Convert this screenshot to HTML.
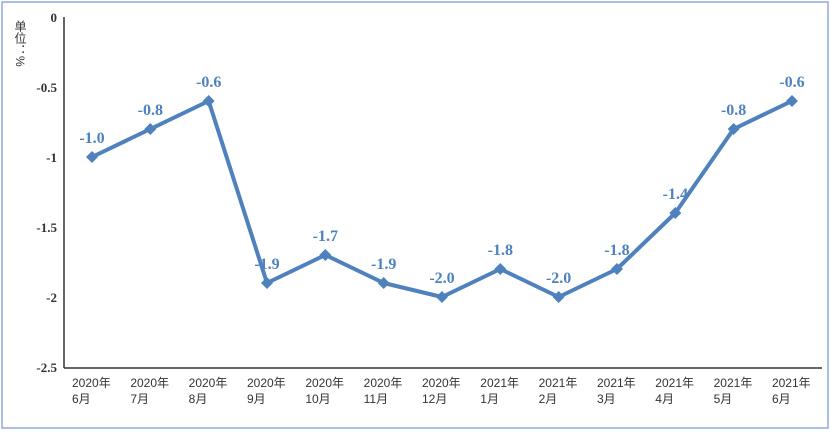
<!DOCTYPE html>
<html><head><meta charset="utf-8"><style>
body{margin:0;background:#fff;}
svg{display:block;font-family:"Liberation Serif","Noto Serif CJK SC",serif;}
</style></head><body>
<svg width="831" height="433" viewBox="0 0 831 433">
<rect x="2" y="2" width="826" height="426" fill="#fff" stroke="#8faadc" stroke-width="1.5"/>
<text x="20" y="20" font-size="12" fill="#333" style="writing-mode:vertical-rl;font-family:'Liberation Sans','Noto Sans CJK SC',sans-serif">单位：%</text>
<g id="yt"></g>
<g id="xt"></g>
<line x1="64" y1="17" x2="64" y2="368" stroke="#333" stroke-width="1.5"/>
<line x1="64" y1="368" x2="822" y2="368" stroke="#333" stroke-width="1.5"/>
<g id="series"></g>
</svg>
<script>
const categories=["2020年|6月","2020年|7月","2020年|8月","2020年|9月","2020年|10月","2020年|11月","2020年|12月","2021年|1月","2021年|2月","2021年|3月","2021年|4月","2021年|5月","2021年|6月"];
const values=[-1.0,-0.8,-0.6,-1.9,-1.7,-1.9,-2.0,-1.8,-2.0,-1.8,-1.4,-0.8,-0.6];
const yTicks=[0,-0.5,-1,-1.5,-2,-2.5];
const yTickLabels=["0","-0.5","-1","-1.5","-2","-2.5"];
const NS="http://www.w3.org/2000/svg";
function y(v){return 17+(0-v)/2.5*350;}
function x(i){return 92+i*58.33;}
function mk(t,a,p){const e=document.createElementNS(NS,t);for(const k in a)e.setAttribute(k,a[k]);p.appendChild(e);return e;}
const yt=document.getElementById('yt');
yTicks.forEach((v,i)=>{const t=mk('text',{x:57,y:y(v)+5,'text-anchor':'end','font-size':13,'font-weight':'bold',fill:'#333'},yt);


t.textContent=yTickLabels[i];});
const xt=document.getElementById('xt');
categories.forEach((c,i)=>{const p=c.split('|');
const t=mk('text',{x:x(i)-20,y:387,'font-size':12,fill:'#333',style:"font-family:'Liberation Sans','Noto Sans CJK SC',sans-serif"},xt);


const a=mk('tspan',{x:x(i)-20},t);a.textContent=p[0];
const b=mk('tspan',{x:x(i)-20,dy:16},t);b.textContent=p[1];});
const s=document.getElementById('series');
const line=mk('polyline',{points:values.map((v,i)=>x(i)+','+y(v)).join(' '),fill:'none',stroke:'#4f81bd','stroke-width':4,'stroke-linejoin':'round'},s);


values.forEach((v,i)=>{const cx=x(i),cy=y(v);
const m=mk('polygon',{points:`${cx},${cy-6} ${cx+6},${cy} ${cx},${cy+6} ${cx-6},${cy}`,fill:'#4f81bd'},s);


const l=mk('text',{x:cx,y:cy-14,'text-anchor':'middle','font-size':16,'font-weight':'bold',fill:'#4f81bd'},s);


l.textContent=v.toFixed(1);});
</script>
</body></html>
